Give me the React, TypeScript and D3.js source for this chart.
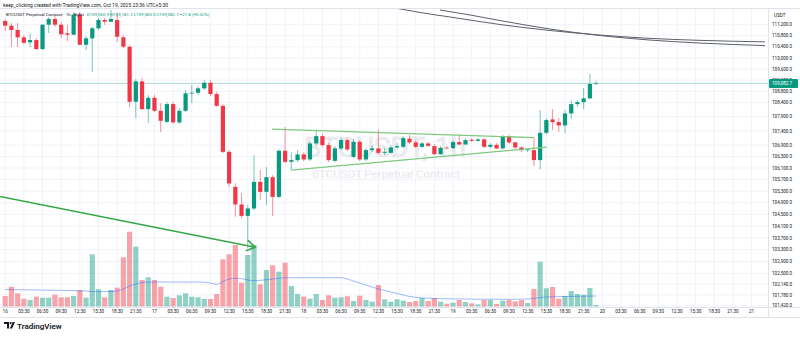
import React from 'react';
import * as d3 from 'd3';

const dayNames = ['16', '17', '18', '19', '20', '21'];
const hourNames = ['03:30', '06:30', '09:30', '12:30', '15:30', '18:30', '21:30'];
const priceTicks = [111200, 110800, 110400, 110000, 109600, 109200, 108800, 108400, 107900, 107400, 106900, 106500, 106100, 105700, 105300, 104900, 104500, 104100, 103700, 103300, 102900, 102500, 102140, 101780, 101420];

const opens = [111335, 111163, 111007, 110741, 110559, 110642, 110316, 111200, 111408, 111200, 110887, 110835, 111565, 110472, 110704, 111069, 111371, 111309, 111371, 110741, 110400, 108427, 109154, 108168, 108569, 108107, 107718, 108345, 107697, 108107, 108726, 108747, 108904, 109104, 108701, 108285, 106664, 105447, 104840, 104449, 104703, 105620, 105274, 105780, 105101, 106699, 106315, 106374, 106573, 106398, 106958, 107214, 106899, 106350, 106783, 107074, 106489, 107014, 106398, 106723, 106783, 106629, 106629, 106818, 106839, 107121, 106993, 106839, 106958, 106863, 106583, 106811, 106793, 107004, 106923, 107085, 107049, 107099, 106839, 106909, 106783, 107214, 106993, 106818, 106723, 106723, 106374, 107330, 107803, 107707, 107591, 108015, 108345, 108416, 108548, 109060.9];
const highs = [111408, 111262, 111262, 110824, 110897, 110715, 111225, 111481, 111554, 111298, 111189, 111664, 111664, 110788, 111116, 111444, 111444, 111737, 111627, 110824, 110461, 109236, 109272, 108665, 108665, 108381, 108416, 108416, 108203, 108843, 109022, 108986, 109200, 109200, 108772, 108345, 106723, 105575, 105229, 104816, 106549, 106026, 106130, 105853, 106758, 107541, 106653, 106723, 106653, 107039, 107390, 107285, 106969, 106863, 107179, 107144, 107109, 107074, 106793, 106899, 107450, 106793, 106899, 106969, 107214, 107250, 107074, 107004, 107004, 106934, 106863, 106863, 107074, 107285, 107144, 107144, 107144, 107144, 106969, 106969, 107250, 107250, 107039, 106863, 106793, 107190, 108132, 107849, 108168, 107849, 108132, 108487, 108487, 108914, 109415, 109181.2];
const lows = [110970, 110389, 110389, 110497, 110389, 110280, 110280, 110897, 111116, 110715, 110606, 110824, 110461, 110280, 109498, 111007, 111189, 111298, 110570, 110352, 108239, 107849, 108132, 107672, 108061, 107355, 107672, 107637, 107637, 108061, 108381, 108665, 108843, 108629, 108239, 106618, 105437, 104415, 104370, 103349, 104644, 104987, 104816, 104439, 105056, 106270, 106026, 106304, 106339, 106339, 106899, 106828, 106304, 106304, 106723, 106688, 106443, 106339, 106339, 106653, 106583, 106549, 106583, 106758, 106793, 106934, 106793, 106793, 106828, 106549, 106549, 106758, 106758, 106899, 106899, 107004, 107004, 106793, 106793, 106758, 106758, 106934, 106758, 106653, 106653, 106165, 106050, 107285, 107425, 107355, 107320, 107813, 108249, 108168, 108523, 109060.0];
const closes = [111163, 111007, 110741, 110544, 110642, 110316, 111200, 111408, 111200, 110850, 110835, 111565, 110472, 110704, 111069, 111371, 111309, 111408, 110762, 110400, 108427, 109154, 108168, 108569, 108107, 107753, 108345, 107697, 108107, 108726, 108747, 108904, 109104, 108701, 108285, 106664, 105565, 104840, 104449, 104703, 105620, 105274, 105780, 105101, 106699, 106315, 106374, 106573, 106398, 106958, 107214, 106899, 106374, 106783, 107074, 106748, 107014, 106398, 106723, 106783, 106629, 106664, 106818, 106863, 107144, 106993, 106839, 106958, 106874, 106583, 106804, 106793, 107004, 106923, 107074, 107049, 107099, 106839, 106909, 106783, 107214, 106993, 106818, 106723, 106748, 106374, 107330, 107778, 107707, 107591, 108015, 108345, 108416, 108548, 109061, 109082.7];
const volumes = [2100, 3960, 2640, 1560, 1300, 1960, 1760, 1760, 2360, 1840, 1840, 2100, 3300, 1760, 10440, 3440, 1840, 3300, 3760, 9840, 14960, 11960, 5300, 5840, 5300, 3960, 1960, 1700, 2240, 2640, 1960, 1840, 1500, 1500, 2500, 9440, 10440, 12300, 4760, 10300, 12300, 4440, 7300, 8240, 6960, 8760, 4100, 2500, 1960, 1560, 2500, 1300, 2240, 1760, 1840, 2040, 1100, 2160, 1300, 960, 4300, 1440, 960, 1440, 1160, 900, 1100, 1700, 1100, 1700, 960, 560, 760, 1300, 900, 640, 440, 1300, 1300, 500, 1160, 1300, 1040, 1300, 700, 3500, 8960, 3640, 3900, 1560, 2100, 3100, 2500, 2360, 3700, 300];
const volumeMA = [3400, 3380, 3360, 3340, 3320, 3300, 3280, 3260, 3240, 3220, 3200, 3160, 3120, 3080, 3000, 2960, 2960, 2980, 3100, 3500, 4100, 4500, 4800, 4880, 4900, 4900, 4920, 4900, 4900, 4880, 4900, 4900, 4880, 4700, 4440, 5000, 5500, 5640, 5560, 5300, 5160, 5240, 5360, 5500, 5640, 5760, 5760, 5760, 5760, 5760, 5760, 5760, 5760, 5760, 5760, 5500, 5100, 4700, 4300, 3900, 3500, 3200, 2900, 2600, 2300, 2000, 1840, 1740, 1660, 1600, 1560, 1540, 1520, 1500, 1500, 1480, 1460, 1460, 1460, 1440, 1440, 1440, 1460, 1480, 1500, 1600, 1800, 1900, 1940, 1980, 2000, 2020, 2040, 2060, 2080, 2100];

const slowMA1Index = [62.67, 66.69, 71.51, 79.55, 87.59, 95.63, 103.67, 111.7, 122.15];
const slowMA1Price = [111810, 111646, 111481, 111207, 110989, 110824, 110703, 110631, 110577];
const slowMA2Index = [69.9, 74.73, 79.55, 87.59, 95.63, 103.67, 111.7, 122.15];
const slowMA2Price = [111737, 111554, 111353, 111043, 110806, 110642, 110533, 110443];

const triangleUpper = [[42.9, 107460], [85.0, 107162]];
const triangleLower = [[46.0, 106026], [87.1, 106828]];
const arrowLine = [[-1.2, 105130], [40.2, 103383]];

const lastPrice = 109082.7;

const W = 800;
const H = 337;
const PLOT_R = 768;
const PLOT_T = 9;
const PLOT_B = 307;
const FONT = 'Roboto, "Noto Sans", sans-serif';
const UP = '#089981';
const DOWN = '#f23645';

export default function App() {
  const x = d3.scaleLinear().domain([0, 1]).range([5.2, 5.2 + 6.22]);
  const y = d3.scaleLog().domain([101420, 111200]).range([305.7, 24.7]);
  const yv = d3.scaleLinear().domain([0, 15000]).range([306.5, 231.5]);

  const timeTicks: { x: number; label: string }[] = [];
  for (let k = 0; k < 42; k++) {
    const label = k % 8 === 0 ? dayNames[k / 8] : hourNames[(k % 8) - 1];
    timeTicks.push({ x: x(k * 3), label });
  }

  const lineGen = d3
    .line<number[]>()
    .x((d) => x(d[0]))
    .y((d) => y(d[1]))
    .curve(d3.curveMonotoneX);
  const straight = d3
    .line<number[]>()
    .x((d) => x(d[0]))
    .y((d) => y(d[1]));

  const volLine = d3
    .line<number>()
    .x((_, i) => x(i))
    .y((d) => yv(d))
    .curve(d3.curveMonotoneX);

  const ma1 = slowMA1Index.map((v, i) => [v, slowMA1Price[i]]);
  const ma2 = slowMA2Index.map((v, i) => [v, slowMA2Price[i]]);

  const aEnd = arrowLine[1];
  const aStart = arrowLine[0];
  const ax = x(aEnd[0]);
  const ay = y(aEnd[1]);
  const ang = Math.atan2(ay - y(aStart[1]), ax - x(aStart[0]));
  const hl = 10;
  const head = [ang + Math.PI - 0.55, ang + Math.PI + 0.55].map((a) => [ax + hl * Math.cos(a), ay + hl * Math.sin(a)]);

  const bw = 4.2;
  const vbw = 5.2;

  return (
    <svg width={W} height={H} style={{ position: 'absolute', left: 0, top: 0, background: '#fff' }} fontFamily={FONT}>
      <defs>
        <clipPath id="plot">
          <rect x={0} y={PLOT_T} width={PLOT_R} height={PLOT_B - PLOT_T} />
        </clipPath>
      </defs>
      <rect x={0} y={0} width={W} height={H} fill="#fff" />
      {/* header */}
      <text x={3} y={7} fontSize={5} fill="#131722">
        keep_clicking created with TradingView.com, Oct 19, 2025 23:36 UTC+5:30
      </text>

      <g clipPath="url(#plot)">
        {/* grid */}
        {priceTicks.map((p) => (
          <line key={'h' + p} x1={0} x2={PLOT_R} y1={y(p)} y2={y(p)} stroke="#f0f3fa" strokeWidth={1} />
        ))}
        {timeTicks.map((t) => (
          <line key={'v' + t.x} x1={t.x} x2={t.x} y1={PLOT_T} y2={PLOT_B} stroke="#f0f3fa" strokeWidth={1} />
        ))}
        {/* watermark */}
        <text x={385} y={157} textAnchor="middle" fontSize={28} fill="#eceef1" stroke="#dfe1e6" strokeWidth={0.5}>
          BTCUSDT, 1h
        </text>
        <text x={386} y={178} textAnchor="middle" fontSize={11.5} fill="#e6e8ec">
          BTCUSDT Perpetual Contract
        </text>
        {/* volume */}
        {volumes.map((v, i) => (
          <rect
            key={'vol' + i}
            x={x(i) - vbw / 2}
            y={yv(v)}
            width={vbw}
            height={yv(0) - yv(v)}
            fill={closes[i] >= opens[i] ? UP : DOWN}
            fillOpacity={0.45}
          />
        ))}
        <path d={volLine(volumeMA) || ''} fill="none" stroke="#2962ff" strokeOpacity={0.45} strokeWidth={1} />
        {/* last price line */}
        <line x1={0} x2={PLOT_R} y1={y(lastPrice)} y2={y(lastPrice)} stroke={UP} strokeOpacity={0.35} strokeWidth={1} />
        {/* slow MAs */}
        <path d={lineGen(ma1) || ''} fill="none" stroke="#5d606b" strokeWidth={1} />
        <path d={lineGen(ma2) || ''} fill="none" stroke="#5d606b" strokeWidth={1} />
        {/* candles */}
        {opens.map((o, i) => {
          const c = closes[i];
          const up = c >= o;
          const col = up ? UP : DOWN;
          const top = y(Math.max(o, c));
          const bot = y(Math.min(o, c));
          return (
            <g key={'c' + i}>
              <rect x={x(i) - 0.5} y={y(highs[i])} width={1} height={y(lows[i]) - y(highs[i])} fill={col} fillOpacity={0.55} />
              <rect x={x(i) - bw / 2} y={top} width={bw} height={Math.max(0.8, bot - top)} fill={col} />
            </g>
          );
        })}
        {/* drawings */}
        <path d={straight(triangleUpper) || ''} stroke="#7fc97f" strokeWidth={1.3} fill="none" />
        <path d={straight(triangleLower) || ''} stroke="#7fc97f" strokeWidth={1.3} fill="none" />
        <path d={straight(arrowLine) || ''} stroke="#34a845" strokeWidth={1.6} fill="none" />
        <path
          d={`M${head[0][0]},${head[0][1]}L${ax},${ay}L${head[1][0]},${head[1][1]}`}
          stroke="#34a845"
          strokeWidth={1.6}
          fill="none"
        />
      </g>

      {/* legend */}
      <text x={6} y={16} fontSize={4.4} fill="#131722">
        BTCUSDT Perpetual Contract · 1h · Bybit
        <tspan dx={3} fill={UP}>
          O109,060.9 H109,181.2 L109,060.0 C109,082.7 +21.8 (+0.02%)
        </tspan>
      </text>

      {/* frame */}
      <line x1={0} x2={W} y1={PLOT_T - 0.5} y2={PLOT_T - 0.5} stroke="#e0e3eb" />
      <line x1={PLOT_R + 0.5} x2={PLOT_R + 0.5} y1={PLOT_T} y2={317} stroke="#e0e3eb" />
      <line x1={0} x2={W} y1={PLOT_B + 0.5} y2={PLOT_B + 0.5} stroke="#e0e3eb" />
      <line x1={0} x2={W} y1={317.5} y2={317.5} stroke="#e0e3eb" />

      {/* price axis */}
      <text x={774} y={17} fontSize={4.6} fill="#131722">USDT</text>
      {priceTicks.map((p) => (
        <text key={'pl' + p} x={772} y={y(p) + 1.7} fontSize={4.6} fill="#131722">
          {d3.format(',.1f')(p)}
        </text>
      ))}
      <rect x={769} y={y(lastPrice) - 4.5} width={29} height={9} fill={UP} rx={1} />
      <text x={772} y={y(lastPrice) + 1.7} fontSize={4.6} fill="#fff">
        {d3.format(',.1f')(lastPrice)}
      </text>

      {/* time axis */}
      {timeTicks.map((t) =>
        t.x < PLOT_R ? (
          <text key={'tl' + t.x} x={t.x} y={313} fontSize={4.6} textAnchor="middle" fill="#131722">
            {t.label}
          </text>
        ) : null
      )}

      {/* logo */}
      <g transform="translate(4,322)">
        <path d="M0,0H5V6.5H3V2H0Z" fill="#131722" />
        <circle cx={6.6} cy={1.1} r={1.1} fill="#131722" />
        <path d="M8.8,0H11L8,6.5H5.8Z" fill="#131722" />
      </g>
      <text x={17} y={329} fontSize={8} fontWeight={600} fill="#131722">
        TradingView
      </text>
    </svg>
  );
}
